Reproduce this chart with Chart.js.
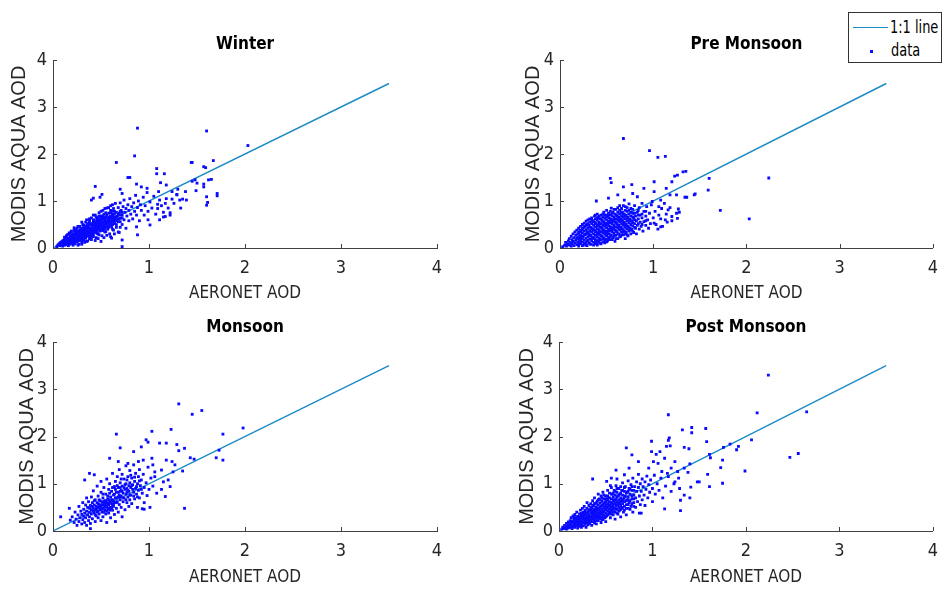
<!DOCTYPE html>
<html>
<head>
<meta charset="utf-8">
<script src="https://cdn.jsdelivr.net/npm/chart.js@4.4.0/dist/chart.umd.min.js"></script>
<style>
  body { margin: 0; background: #fff; width: 948px; height: 590px; overflow: hidden; position: relative; }
  .panel { position: absolute; }
  #legend { position: absolute; left: 848px; top: 12px; width: 94px; height: 51px; box-sizing: border-box;
    border: 1px solid #333; background: #fff; font-family: 'Liberation Sans Narrow', 'DejaVu Sans Condensed', 'Arial Narrow', sans-serif;
    font-size: 18px; color: #000; white-space: nowrap; }
  #legend .ln { position: absolute; left: 4px; top: 14px; width: 35px; border-top: 1.5px solid #1b8ac6; }
  #legend .dot { position: absolute; left: 21px; top: 37px; width: 3px; height: 3px; background: #0a0aff; }
  #legend span { position: absolute; transform: scaleX(0.8); transform-origin: 0 50%; line-height: 20px; }
  #legend .t1 { left: 41px; top: 4px; }
  #legend .t2 { left: 42px; top: 27px; }
</style>
</head>
<body>
<div class="panel" style="left:0;top:0"><canvas id="c0" width="474" height="310"></canvas></div>
<div class="panel" style="left:474px;top:0"><canvas id="c1" width="474" height="310"></canvas></div>
<div class="panel" style="left:0;top:295px"><canvas id="c2" width="474" height="295"></canvas></div>
<div class="panel" style="left:474px;top:295px"><canvas id="c3" width="474" height="295"></canvas></div>
<div id="legend"><div class="ln"></div><span class="t1">1:1 line</span><div class="dot"></div><span class="t2">data</span></div>
<script>
// values (AERONET AOD, MODIS AQUA AOD)
const titles = ["Winter", "Pre Monsoon", "Monsoon", "Post Monsoon"];
const ticks = [0, 1, 2, 3, 4];
const oneToOne = [[0, 0], [3.5, 3.5]];

const winterPoints = [
  [0.88,2.55],[1.60,2.49],[2.03,2.18],[0.85,1.96],[0.66,1.82],[1.45,1.82],[1.67,1.86],[1.59,1.71],[1.08,1.69],[1.08,1.58],
  [1.16,1.58],[0.80,1.50],[1.65,1.46],[1.45,1.42],[1.48,1.45],[0.44,1.31],[1.57,1.36],[1.71,1.16],[1.61,0.97],[1.49,1.22],
  [1.33,0.85],[1.15,0.76],[1.15,0.66],[1.22,0.75],[1.35,1.04],[1.29,1.14],[1.24,1.04],[1.09,0.93],[0.72,0.03],[0.72,0.17],
  [0.51,1.14],[0.42,1.06],[0.40,1.02],[0.49,1.08],[0.78,1.50],[0.70,1.25],[0.72,1.16],[0.87,1.36],[0.92,1.30],[0.98,1.27],
  [1.12,1.39],[1.18,1.34],[1.24,1.20],[1.29,1.13],[1.32,1.02],[1.38,1.20],[1.39,1.02],[1.11,1.02],[1.17,0.95],[1.09,0.84],
  [1.17,0.67],[1.22,0.70],[1.11,0.60],[1.01,0.49],[0.99,0.60],[0.87,0.45],[0.88,0.28],[0.61,0.21],[1.50,1.38],[1.57,1.30],
  [1.60,1.09],[1.62,1.45],[1.71,1.11],[1.60,0.91],[1.44,1.82],[1.57,1.73],
  [0.04,0.03],[0.06,0.08],[0.07,0.05],[0.08,0.12],[0.09,0.07],[0.10,0.15],[0.10,0.04],[0.11,0.10],[0.12,0.19],[0.12,0.06],
  [0.13,0.13],[0.14,0.23],[0.14,0.09],[0.15,0.17],[0.15,0.28],[0.16,0.05],[0.16,0.12],[0.17,0.21],[0.17,0.32],[0.18,0.08],
  [0.18,0.15],[0.19,0.25],[0.19,0.36],[0.20,0.11],[0.20,0.19],[0.21,0.29],[0.21,0.06],[0.22,0.14],[0.22,0.23],[0.22,0.38],
  [0.23,0.33],[0.23,0.09],[0.24,0.18],[0.24,0.27],[0.25,0.42],[0.25,0.13],[0.26,0.22],[0.26,0.31],[0.27,0.36],[0.27,0.08],
  [0.28,0.16],[0.28,0.26],[0.28,0.46],[0.29,0.20],[0.29,0.40],[0.30,0.12],[0.30,0.30],[0.30,0.35],[0.31,0.24],[0.31,0.50],
  [0.32,0.17],[0.32,0.33],[0.32,0.43],[0.33,0.28],[0.33,0.38],[0.34,0.21],[0.34,0.47],[0.34,0.55],[0.35,0.31],[0.35,0.14],
  [0.36,0.25],[0.36,0.40],[0.36,0.52],[0.37,0.35],[0.37,0.45],[0.38,0.19],[0.38,0.29],[0.38,0.58],[0.39,0.42],[0.39,0.50],
  [0.40,0.23],[0.40,0.34],[0.40,0.64],[0.41,0.46],[0.41,0.38],[0.42,0.55],[0.42,0.28],[0.43,0.42],[0.43,0.60],[0.44,0.33],
  [0.44,0.50],[0.44,0.70],[0.45,0.46],[0.45,0.22],[0.46,0.38],[0.46,0.57],[0.47,0.64],[0.47,0.30],[0.48,0.44],[0.48,0.52],
  [0.48,0.75],[0.49,0.36],[0.49,0.60],[0.50,0.48],[0.50,0.68],[0.51,0.26],[0.51,0.55],[0.52,0.41],[0.52,0.63],[0.52,0.80],
  [0.53,0.50],[0.53,0.72],[0.54,0.34],[0.54,0.58],[0.55,0.45],[0.55,0.66],[0.56,0.53],[0.56,0.85],[0.57,0.40],[0.57,0.62],
  [0.58,0.74],[0.58,0.50],[0.59,0.30],[0.59,0.58],[0.60,0.68],[0.60,0.90],[0.61,0.45],[0.61,0.78],[0.62,0.56],[0.62,0.64],
  [0.63,0.38],[0.63,0.84],[0.64,0.72],[0.64,0.52],[0.65,0.95],[0.65,0.62],[0.66,0.44],[0.66,0.76],[0.67,0.68],[0.68,0.56],
  [0.68,0.86],[0.69,0.33],[0.69,0.74],[0.70,0.63],[0.70,0.96],[0.71,0.80],[0.72,0.50],[0.72,0.70],[0.73,0.88],[0.74,0.60],
  [0.74,1.02],[0.75,0.76],[0.76,0.42],[0.76,0.84],[0.77,0.68],[0.78,0.92],[0.79,0.58],[0.79,0.80],[0.80,1.05],[0.81,0.72],
  [0.82,0.88],[0.83,0.62],[0.84,0.96],[0.85,0.78],[0.86,1.12],[0.87,0.70],[0.88,0.86],[0.89,1.00],[0.90,0.58],[0.91,0.92],
  [0.92,0.80],[0.94,1.08],[0.95,0.70],[0.96,0.90],[0.98,1.18],[0.99,0.78],[1.01,0.98],[1.03,0.85],[1.05,1.10],[1.07,0.72],
  [1.10,1.20],[1.13,0.90],[1.18,1.05],[1.20,0.85],[1.26,0.95],[1.30,1.25],
  [0.05,0.06],[0.07,0.10],[0.09,0.13],[0.11,0.16],[0.13,0.18],[0.13,0.07],[0.15,0.10],[0.16,0.20],[0.17,0.14],[0.18,0.26],
  [0.19,0.18],[0.20,0.27],[0.21,0.14],[0.21,0.21],[0.23,0.17],[0.23,0.25],[0.24,0.34],[0.25,0.20],[0.26,0.15],[0.26,0.27],
  [0.27,0.22],[0.27,0.30],[0.29,0.24],[0.29,0.33],[0.30,0.18],[0.31,0.28],[0.31,0.39],[0.33,0.22],[0.33,0.33],[0.35,0.27],
  [0.35,0.37],[0.35,0.44],[0.37,0.30],[0.37,0.40],[0.39,0.27],[0.39,0.36],[0.41,0.31],[0.41,0.52],[0.42,0.36],[0.43,0.49],
  [0.45,0.40],[0.45,0.54],[0.46,0.31],[0.47,0.47],[0.49,0.43],[0.49,0.54],[0.50,0.38],[0.51,0.61],[0.53,0.45],[0.54,0.65],
  [0.55,0.52],[0.57,0.56],[0.58,0.66],[0.60,0.50],[0.62,0.72],[0.64,0.60],
  [0.10,0.09],[0.12,0.14],[0.12,0.23],[0.14,0.16],[0.14,0.26],[0.16,0.08],[0.16,0.17],[0.16,0.29],[0.18,0.11],[0.18,0.19],
  [0.18,0.32],[0.20,0.14],[0.20,0.23],[0.20,0.34],[0.22,0.11],[0.22,0.18],[0.22,0.28],[0.24,0.14],[0.24,0.22],[0.24,0.30],
  [0.24,0.39],[0.26,0.18],[0.26,0.25],[0.26,0.35],[0.28,0.19],[0.28,0.30],[0.28,0.39],[0.30,0.22],[0.30,0.27],[0.30,0.42],
  [0.32,0.20],[0.32,0.26],[0.32,0.38],[0.32,0.48],[0.34,0.25],[0.34,0.33],[0.34,0.43],[0.36,0.29],[0.36,0.36],[0.36,0.47],
  [0.38,0.24],[0.38,0.33],[0.38,0.43],[0.38,0.53],[0.40,0.28],[0.40,0.40],[0.40,0.50],[0.42,0.32],[0.42,0.41],[0.42,0.59],
  [0.44,0.37],[0.44,0.45],[0.44,0.55],[0.46,0.34],[0.46,0.43],[0.46,0.52],[0.46,0.62],[0.48,0.40],[0.48,0.48],[0.48,0.58],
  [0.50,0.44],[0.50,0.52],[0.50,0.63],[0.52,0.37],[0.52,0.46],[0.52,0.56],[0.52,0.68],[0.54,0.41],[0.54,0.53],[0.54,0.62],
  [0.56,0.46],[0.56,0.57],[0.56,0.70],[0.58,0.44],[0.58,0.54],[0.58,0.62],[0.60,0.56],[0.60,0.64],[0.60,0.75],[0.62,0.50],
  [0.62,0.60],[0.62,0.68],[0.64,0.56],[0.64,0.66],[0.64,0.78],[0.66,0.58],[0.66,0.66],[0.68,0.62],[0.68,0.72],[0.70,0.56],
  [0.70,0.70],[0.70,0.78],[0.72,0.64],[0.72,0.76],
  [0.36,0.15],[0.40,0.18],[0.44,0.16],[0.47,0.20],[0.50,0.14],[0.53,0.22],[0.56,0.27],[0.60,0.24],[0.64,0.30],[0.68,0.34],
  [0.42,0.24],[0.48,0.28],[0.55,0.35],[0.62,0.40],[0.66,0.50],[0.70,0.44],[0.38,0.62],[0.42,0.70],[0.45,0.66],[0.50,0.78],
  [0.54,0.84],[0.58,0.86],[0.62,0.92],[0.55,0.75],[0.60,0.80],[0.48,0.68],[0.35,0.60],[0.30,0.55],[0.26,0.46],[0.22,0.43],
  [0.33,0.12],[0.30,0.08],[0.26,0.06]
];

const preMonsoonPoints = [
  [0.68,2.33],[0.96,2.07],[1.05,1.93],[1.13,1.95],[0.54,1.48],[0.55,1.39],[1.35,1.63],[1.26,1.55],[1.60,1.48],[1.59,1.23],
  [2.24,1.49],[1.72,0.80],[2.03,0.62],[1.45,1.15],[1.36,1.08],[1.01,1.41],[0.77,1.35],[0.68,1.30],[0.39,1.00],[1.27,0.83],
  [1.28,0.76],[1.10,0.46],[1.05,0.40],[1.15,0.55],[1.20,1.41],[1.23,1.53],[1.32,1.62],[1.44,1.13],[1.34,1.08],[1.25,1.13],
  [1.18,1.13],[1.14,1.27],[0.52,1.06],[0.62,1.13],[0.69,1.02],[0.78,1.16],[0.83,1.09],[0.90,1.27],[1.01,1.20],[0.99,0.99],
  [1.08,1.02],[1.09,0.84],[1.16,0.81],[1.20,0.67],[1.25,0.74],[1.26,0.63],[1.13,0.60],[1.08,0.45],[1.01,0.53],[1.06,0.70],
  [0.03,0.03],[0.05,0.06],[0.06,0.12],[0.07,0.04],[0.08,0.09],[0.09,0.15],[0.10,0.06],[0.10,0.20],
  [0.11,0.12],[0.12,0.04],[0.12,0.25],[0.13,0.09],[0.13,0.18],[0.14,0.30],[0.14,0.14],[0.15,0.05],[0.15,0.22],[0.16,0.11],
  [0.16,0.34],[0.17,0.17],[0.17,0.27],[0.18,0.07],[0.18,0.21],[0.18,0.38],
  [0.19,0.13],[0.19,0.30],[0.20,0.04],[0.20,0.24],[0.20,0.42],[0.21,0.17],[0.21,0.35],[0.22,0.09],[0.22,0.28],[0.22,0.46],
  [0.23,0.20],[0.23,0.38],[0.24,0.13],[0.24,0.32],[0.24,0.50],[0.25,0.06],[0.25,0.25],[0.25,0.43],[0.26,0.17],[0.26,0.36],
  [0.26,0.53],
  [0.27,0.10],[0.27,0.29],[0.27,0.46],[0.28,0.21],[0.28,0.39],[0.28,0.57],[0.29,0.05],[0.29,0.15],[0.29,0.33],[0.29,0.50],
  [0.30,0.24],[0.30,0.42],[0.30,0.60],[0.31,0.11],[0.31,0.30],[0.31,0.48],[0.32,0.19],[0.32,0.37],[0.32,0.55],[0.33,0.08],
  [0.33,0.27],[0.33,0.44],[0.34,0.16],[0.34,0.34],[0.34,0.52],[0.34,0.64],[0.35,0.23],[0.35,0.41],[0.35,0.58],[0.36,0.12],
  [0.36,0.30],[0.36,0.48],
  [0.37,0.20],[0.37,0.38],[0.37,0.55],[0.37,0.68],[0.38,0.09],[0.38,0.27],[0.38,0.45],[0.38,0.62],[0.39,0.17],[0.39,0.34],
  [0.39,0.52],[0.40,0.06],[0.40,0.24],[0.40,0.41],[0.40,0.59],[0.40,0.72],[0.41,0.14],[0.41,0.31],[0.41,0.48],[0.41,0.65],
  [0.42,0.21],[0.42,0.38],[0.42,0.55],[0.43,0.10],[0.43,0.28],[0.43,0.45],[0.43,0.62],[0.44,0.18],[0.44,0.35],[0.44,0.52],
  [0.44,0.70],[0.45,0.25],[0.45,0.42],[0.45,0.59],[0.46,0.13],[0.46,0.32],[0.46,0.49],[0.46,0.66],
  [0.47,0.22],[0.47,0.39],[0.47,0.56],[0.47,0.76],[0.48,0.11],[0.48,0.29],[0.48,0.46],[0.48,0.63],[0.49,0.19],[0.49,0.36],
  [0.49,0.53],[0.49,0.70],[0.50,0.26],[0.50,0.43],[0.50,0.60],[0.50,0.80],[0.51,0.15],[0.51,0.33],[0.51,0.50],[0.51,0.67],
  [0.52,0.23],[0.52,0.40],[0.52,0.57],[0.52,0.74],[0.53,0.30],[0.53,0.47],[0.53,0.64],[0.54,0.18],[0.54,0.37],[0.54,0.54],
  [0.54,0.71],[0.55,0.27],[0.55,0.44],[0.55,0.61],[0.55,0.85],[0.56,0.34],[0.56,0.51],[0.56,0.68],
  [0.57,0.22],[0.57,0.41],[0.57,0.58],[0.57,0.76],[0.58,0.31],[0.58,0.48],[0.58,0.65],[0.59,0.14],[0.59,0.38],[0.59,0.55],
  [0.59,0.72],[0.60,0.27],[0.60,0.45],[0.60,0.62],[0.60,0.82],[0.61,0.35],[0.61,0.52],[0.61,0.69],[0.62,0.20],[0.62,0.42],
  [0.62,0.59],[0.62,0.76],[0.63,0.30],[0.63,0.49],[0.63,0.66],[0.64,0.38],[0.64,0.56],[0.64,0.73],[0.64,0.90],[0.65,0.25],
  [0.65,0.45],[0.65,0.62],[0.66,0.34],[0.66,0.52],[0.66,0.69],[0.66,0.84],
  [0.67,0.41],[0.67,0.59],[0.67,0.76],[0.68,0.28],[0.68,0.48],[0.68,0.65],[0.69,0.37],[0.69,0.55],[0.69,0.72],[0.70,0.20],
  [0.70,0.44],[0.70,0.62],[0.70,0.88],[0.71,0.33],[0.71,0.51],[0.71,0.69],[0.72,0.40],[0.72,0.58],[0.72,0.78],[0.73,0.26],
  [0.73,0.47],[0.73,0.65],[0.74,0.36],[0.74,0.54],[0.74,0.72],[0.74,0.94],[0.75,0.43],[0.75,0.61],[0.76,0.30],[0.76,0.50],
  [0.76,0.68],[0.76,0.84],
  [0.77,0.40],[0.77,0.57],[0.78,0.47],[0.78,0.74],[0.79,0.33],[0.79,0.63],[0.80,0.52],[0.80,0.90],[0.81,0.42],[0.81,0.68],
  [0.82,0.58],[0.82,0.30],[0.83,0.76],[0.83,0.48],[0.84,0.62],[0.85,0.40],[0.85,0.86],[0.86,0.55],[0.86,0.70],[0.87,0.46],
  [0.88,0.64],[0.88,0.95],[0.89,0.36],[0.90,0.56],[0.90,0.78],[0.92,0.48],[0.92,0.68],[0.93,0.88],[0.94,0.60],[0.95,0.42],
  [0.96,0.74],[0.97,0.52],[0.98,0.92],[1.00,0.64],[1.02,0.78],[1.03,0.50],[1.06,0.88],[1.08,0.62],[1.12,0.95],[1.14,0.72],
  [1.18,0.86],[1.20,0.58],
  [0.20,0.08],[0.20,0.20],[0.20,0.33],[0.22,0.14],[0.22,0.37],[0.22,0.24],[0.24,0.05],[0.24,0.22],[0.24,0.41],[0.26,0.10],
  [0.26,0.28],[0.26,0.45],[0.28,0.06],[0.28,0.30],[0.28,0.48],[0.28,0.12],[0.30,0.16],[0.30,0.34],[0.30,0.52],[0.32,0.09],
  [0.32,0.26],[0.32,0.45],[0.32,0.62],[0.34,0.20],[0.34,0.40],[0.34,0.58],[0.36,0.06],[0.36,0.22],[0.36,0.39],[0.36,0.56],
  [0.38,0.14],[0.38,0.35],[0.38,0.52],[0.38,0.70],[0.40,0.11],[0.40,0.29],[0.40,0.47],[0.40,0.64],[0.42,0.16],[0.42,0.33],
  [0.42,0.50],[0.42,0.68],[0.44,0.09],[0.44,0.26],[0.44,0.44],[0.44,0.62],[0.46,0.20],[0.46,0.37],[0.46,0.55],[0.46,0.72],
  [0.48,0.16],[0.48,0.33],[0.48,0.51],[0.48,0.70],[0.50,0.13],[0.50,0.30],[0.50,0.48],[0.50,0.66],[0.52,0.19],[0.52,0.36],
  [0.52,0.53],[0.52,0.70],[0.54,0.24],[0.54,0.42],[0.54,0.59],[0.54,0.78],[0.56,0.18],[0.56,0.39],[0.56,0.56],[0.56,0.74],
  [0.58,0.26],[0.58,0.44],[0.58,0.61],[0.58,0.82],[0.60,0.20],[0.60,0.36],[0.60,0.54],[0.60,0.70],[0.62,0.30],[0.62,0.48],
  [0.62,0.66],[0.62,0.86],[0.64,0.24],[0.64,0.44],[0.64,0.61],[0.64,0.80],[0.66,0.28],[0.66,0.40],[0.66,0.58],[0.66,0.76],
  [0.68,0.34],[0.68,0.54],[0.68,0.72],[0.68,0.90],[0.70,0.30],[0.70,0.50],[0.70,0.68],[0.70,0.80],[0.72,0.28],[0.72,0.46],
  [0.72,0.64],[0.72,0.86],[0.74,0.42],[0.74,0.60],[0.74,0.80],[0.76,0.38],[0.76,0.58],[0.76,0.76],[0.78,0.36],[0.78,0.54],
  [0.78,0.66],[0.78,0.82],[0.80,0.44],[0.80,0.60],[0.80,0.74],[0.84,0.52],[0.84,0.70],[0.84,0.80],[0.88,0.50],[0.88,0.72],
  [0.92,0.58],[0.92,0.78]
];

const monsoonPoints = [
  [1.31,2.69],[1.45,2.47],[1.55,2.55],[0.66,2.05],[1.03,2.11],[1.23,2.15],[1.77,2.05],[1.98,2.18],[0.70,1.76],[0.97,1.93],
  [0.99,1.88],[1.11,1.86],[1.18,1.86],[1.29,1.83],[1.31,1.70],[1.37,1.75],[1.73,1.71],[1.70,1.55],[1.77,1.50],[1.43,1.55],
  [1.47,1.52],[1.35,1.27],[1.37,0.48],[1.17,0.73],[1.22,0.94],[1.13,0.88],[0.93,0.47],[0.95,0.46],[0.08,0.30],[0.17,0.48],
  [0.18,0.23],[0.39,0.05],[0.33,1.08],[0.38,1.22],[0.43,1.19],
  [0.59,1.54],[0.68,1.47],[0.78,1.43],[0.89,1.47],[0.94,1.50],[0.84,1.68],[0.92,1.78],[1.03,1.54],[1.04,1.40],[1.13,1.29],
  [1.18,1.50],[1.24,1.47],[1.27,1.40],[1.25,1.25],[1.20,1.08],[1.15,1.04],[1.06,1.15],
  [0.20,0.30],[0.22,0.18],[0.23,0.40],[0.24,0.25],[0.25,0.12],[0.26,0.34],[0.27,0.52],[0.27,0.20],[0.28,0.28],[0.29,0.42],
  [0.30,0.15],[0.30,0.35],[0.31,0.60],[0.31,0.24],[0.32,0.46],[0.32,0.31],[0.33,0.18],[0.33,0.38],[0.34,0.55],[0.34,0.28],
  [0.35,0.42],[0.35,0.70],[0.35,0.12],
  [0.36,0.34],[0.36,0.50],[0.37,0.22],[0.37,0.62],[0.38,0.40],[0.38,0.30],[0.39,0.54],[0.39,0.16],[0.40,0.45],[0.40,0.72],
  [0.40,0.36],[0.41,0.26],[0.41,0.60],[0.42,0.48],[0.42,0.85],[0.43,0.38],[0.43,0.55],[0.44,0.20],[0.44,0.66],[0.44,0.44],
  [0.45,0.32],[0.45,0.52],[0.46,0.60],[0.46,0.95],[0.46,0.40],[0.47,0.28],[0.47,0.74],[0.48,0.50],[0.48,0.56],[0.48,0.36],
  [0.49,0.64],[0.49,0.45],[0.50,0.22],[0.50,0.82],[0.50,0.54],[0.50,1.05],
  [0.51,0.40],[0.51,0.62],[0.52,0.48],[0.52,0.70],[0.52,0.30],[0.53,0.56],[0.53,0.92],[0.54,0.44],[0.54,0.64],[0.55,0.36],
  [0.55,0.52],[0.55,0.78],[0.56,0.60],[0.56,1.10],[0.56,0.18],[0.57,0.47],[0.57,0.68],[0.58,0.55],[0.58,0.88],[0.58,0.38],
  [0.59,0.62],[0.59,1.00],[0.60,0.50],[0.60,0.72],[0.60,0.28],[0.61,0.58],[0.61,0.84],[0.62,0.44],[0.62,0.66],[0.62,1.22],
  [0.63,0.76],[0.63,0.52],[0.64,0.35],[0.64,0.94],[0.64,0.60],[0.65,0.70],[0.65,1.05],[0.65,0.20],
  [0.66,0.48],[0.66,0.82],[0.67,0.62],[0.67,1.15],[0.68,0.72],[0.68,0.40],[0.68,0.92],[0.69,0.56],[0.69,1.30],[0.70,0.66],
  [0.70,0.84],[0.70,1.02],[0.71,0.50],[0.71,0.74],[0.72,0.95],[0.72,0.30],[0.72,1.20],[0.73,0.62],[0.73,0.80],[0.74,0.70],
  [0.74,1.10],[0.75,0.88],[0.75,0.45],[0.76,0.78],[0.76,1.00],[0.76,1.38],[0.77,0.60],[0.77,0.90],[0.78,1.15],[0.78,0.72],
  [0.79,0.84],[0.79,0.52],[0.80,1.02],[0.80,0.66],[0.80,1.28],
  [0.81,0.92],[0.81,0.76],[0.82,1.12],[0.82,0.58],[0.83,0.98],[0.84,0.82],[0.84,1.40],[0.85,1.05],[0.85,0.68],[0.86,0.90],
  [0.86,1.22],[0.87,0.78],[0.88,1.00],[0.88,0.50],[0.89,1.15],[0.89,0.86],[0.90,0.70],[0.90,1.30],[0.91,0.96],[0.92,1.08],
  [0.93,0.80],[0.94,1.20],[0.95,0.60],[0.95,0.92],[0.97,1.02],[0.98,0.75],[0.99,1.35],[1.00,0.88],[1.01,0.50],[1.02,1.12],
  [1.04,0.95],[1.06,1.25],[1.08,0.80],
  [0.42,0.42],[0.45,0.46],[0.47,0.58],[0.49,0.52],[0.51,0.46],[0.53,0.62],[0.54,0.50],[0.56,0.42],[0.57,0.58],[0.58,0.66],
  [0.60,0.60],[0.61,0.48],[0.63,0.64],[0.66,0.70],[0.69,0.76],[0.71,0.86],[0.74,0.92],[0.77,0.82],[0.79,0.96],[0.83,0.88],
  [0.38,0.48],[0.41,0.52],[0.43,0.64],[0.44,0.34],[0.47,0.42],[0.48,0.66],[0.50,0.46],[0.51,0.56],[0.52,0.78],[0.53,0.40],
  [0.55,0.64],[0.56,0.52],[0.57,0.74],[0.59,0.44],[0.59,0.80],[0.61,0.66],[0.62,0.92],[0.63,0.56],[0.64,0.78],[0.66,0.60],
  [0.67,0.96],[0.68,0.82],[0.70,0.72],[0.71,1.10],[0.72,0.84],[0.73,0.70],[0.75,0.98],[0.76,0.66],[0.77,1.08],[0.78,0.86],
  [0.80,0.76],[0.81,1.18],[0.82,0.96],[0.84,0.74],[0.85,1.14],[0.87,0.94],[0.88,0.72],[0.90,1.06],[0.92,0.88],[0.46,0.50],
  [0.54,0.58],[0.58,0.48],[0.62,0.54],[0.65,0.88],[0.70,0.92]
];

const postMonsoonPoints = [
  [2.24,3.30],[2.12,2.50],[2.65,2.52],[1.17,2.46],[1.32,2.14],[1.42,2.19],[1.42,2.08],[1.57,2.17],[1.58,1.89],[1.18,1.97],
  [1.17,1.92],[0.99,1.90],[0.72,1.76],[1.39,1.74],[1.34,1.77],[1.15,1.79],[1.19,1.80],[1.83,1.84],[1.76,1.77],[2.06,1.93],
  [1.92,1.79],[1.90,1.72],[2.47,1.56],[2.56,1.64],[1.99,1.27],[1.75,1.50],[1.73,1.34],[1.61,1.62],[1.62,1.55],[1.75,1.01],
  [1.61,0.94],[1.48,1.04],[1.50,1.04],[1.40,1.42],[1.38,1.24],[1.59,1.20],[1.41,0.93],[1.40,0.70],[1.30,0.65],[1.30,0.43],
  [1.13,0.47],[0.36,1.10],[0.51,1.05],[0.55,0.96],[0.62,1.10],[0.88,0.38],[0.86,0.38],
  [0.99,1.68],[1.04,1.62],[1.08,1.68],[1.01,1.47],[1.06,1.43],[1.13,1.54],[1.20,1.33],[1.24,1.47],[1.17,1.15],[1.24,1.04],
  [1.29,0.90],[1.34,0.76],[1.27,1.26],[1.34,1.33],[1.10,1.26],[0.96,1.33],[0.85,1.47],[0.78,1.61],[0.75,1.33],[0.70,1.19],
  [0.61,1.29],[0.56,1.12],
  [0.03,0.04],[0.04,0.08],[0.05,0.05],[0.06,0.12],[0.07,0.07],[0.08,0.16],[0.08,0.04],[0.09,0.10],[0.10,0.19],[0.10,0.06],
  [0.11,0.14],[0.12,0.22],[0.12,0.08],
  [0.13,0.17],[0.13,0.28],[0.14,0.11],[0.14,0.05],[0.15,0.21],[0.15,0.32],[0.16,0.14],[0.16,0.25],[0.17,0.08],[0.17,0.19],
  [0.17,0.35],[0.18,0.28],[0.18,0.12],[0.19,0.22],[0.19,0.40],[0.20,0.06],[0.20,0.16],[0.20,0.31],[0.21,0.25],[0.21,0.10],
  [0.22,0.19],[0.22,0.36],
  [0.23,0.29],[0.23,0.13],[0.23,0.44],[0.24,0.22],[0.24,0.08],[0.24,0.37],[0.25,0.17],[0.25,0.31],[0.25,0.48],[0.26,0.25],
  [0.26,0.11],[0.26,0.40],[0.27,0.20],[0.27,0.34],[0.27,0.52],[0.28,0.14],[0.28,0.28],[0.28,0.44],[0.29,0.23],[0.29,0.37],
  [0.29,0.08],[0.30,0.18],[0.30,0.31],[0.30,0.48],[0.30,0.60],[0.31,0.26],[0.31,0.41],[0.31,0.13],[0.32,0.21],[0.32,0.35],
  [0.32,0.54],
  [0.33,0.29],[0.33,0.45],[0.33,0.16],[0.34,0.24],[0.34,0.39],[0.34,0.58],[0.35,0.32],[0.35,0.49],[0.35,0.12],[0.36,0.20],
  [0.36,0.43],[0.36,0.64],[0.37,0.27],[0.37,0.36],[0.37,0.53],[0.38,0.17],[0.38,0.31],[0.38,0.47],[0.38,0.70],[0.39,0.24],
  [0.39,0.40],[0.39,0.58],[0.40,0.34],[0.40,0.51],[0.40,0.15],[0.41,0.28],[0.41,0.44],[0.41,0.63],[0.42,0.22],[0.42,0.38],
  [0.42,0.55],[0.42,0.78],
  [0.43,0.32],[0.43,0.48],[0.43,0.68],[0.44,0.26],[0.44,0.42],[0.44,0.59],[0.45,0.18],[0.45,0.36],[0.45,0.52],[0.45,0.74],
  [0.46,0.30],[0.46,0.46],[0.46,0.63],[0.47,0.40],[0.47,0.56],[0.47,0.24],[0.47,0.82],[0.48,0.34],[0.48,0.50],[0.48,0.68],
  [0.49,0.44],[0.49,0.60],[0.49,0.28],[0.50,0.38],[0.50,0.54],[0.50,0.74],[0.50,0.20],[0.51,0.48],[0.51,0.65],[0.51,0.32],
  [0.52,0.42],[0.52,0.58],[0.52,0.86],
  [0.53,0.52],[0.53,0.70],[0.53,0.36],[0.54,0.46],[0.54,0.62],[0.54,0.80],[0.55,0.28],[0.55,0.56],[0.55,0.40],[0.56,0.50],
  [0.56,0.68],[0.56,0.92],[0.57,0.44],[0.57,0.60],[0.57,0.78],[0.58,0.34],[0.58,0.54],[0.58,0.72],[0.59,0.48],[0.59,0.64],
  [0.59,0.86],[0.60,0.40],[0.60,0.58],[0.60,0.76],[0.60,0.25],[0.61,0.52],[0.61,0.68],[0.61,0.96],[0.62,0.46],[0.62,0.62],
  [0.62,0.82],
  [0.63,0.36],[0.63,0.56],[0.63,0.74],[0.64,0.50],[0.64,0.66],[0.64,0.90],[0.65,0.44],[0.65,0.60],[0.65,0.78],[0.66,0.30],
  [0.66,0.54],[0.66,0.70],[0.67,0.64],[0.67,0.86],[0.67,0.48],[0.68,0.58],[0.68,0.76],[0.68,1.02],[0.69,0.40],[0.69,0.68],
  [0.70,0.52],[0.70,0.84],[0.70,0.62],[0.71,0.74],[0.71,0.94],[0.72,0.56],[0.72,0.34],[0.73,0.66],[0.73,0.82],[0.74,0.48],
  [0.74,0.72],[0.74,1.06],[0.75,0.60],[0.75,0.90],
  [0.76,0.78],[0.77,0.52],[0.77,0.98],[0.78,0.68],[0.78,0.86],[0.79,0.40],[0.79,1.12],[0.80,0.60],[0.80,0.76],[0.81,0.94],
  [0.82,0.70],[0.82,0.50],[0.83,0.84],[0.83,1.04],[0.84,0.62],[0.85,0.92],[0.85,1.20],[0.86,0.74],[0.87,0.56],[0.87,1.00],
  [0.88,0.84],[0.89,0.66],[0.89,1.10],[0.90,0.94],[0.91,0.76],[0.92,1.04],[0.92,0.54],[0.93,0.88],[0.94,1.16],[0.95,0.70],
  [0.96,0.98],[0.97,0.82],[0.98,1.08],[1.00,0.90],[1.00,0.62],[1.02,1.18],[1.03,0.78],[1.05,1.00],[1.07,0.86],[1.09,1.12],
  [1.11,0.70],[1.14,0.95],[1.16,1.22],[1.20,0.84],[1.23,1.00],[1.28,1.12],
  [0.10,0.12],[0.12,0.15],[0.14,0.08],[0.14,0.20],[0.16,0.10],[0.16,0.19],[0.16,0.30],[0.18,0.16],[0.18,0.24],[0.20,0.12],
  [0.20,0.22],[0.20,0.27],[0.22,0.14],[0.22,0.24],[0.22,0.30],[0.24,0.12],[0.24,0.18],[0.24,0.27],[0.24,0.32],[0.26,0.18],
  [0.26,0.30],[0.26,0.36],[0.28,0.19],[0.28,0.24],[0.28,0.34],[0.28,0.40],[0.30,0.23],[0.30,0.27],[0.30,0.38],[0.32,0.17],
  [0.32,0.27],[0.32,0.31],[0.32,0.44],[0.34,0.20],[0.34,0.30],[0.34,0.44],[0.34,0.50],[0.36,0.26],[0.36,0.33],[0.36,0.38],
  [0.36,0.54],[0.38,0.22],[0.38,0.36],[0.38,0.42],[0.38,0.58],[0.40,0.22],[0.40,0.30],[0.40,0.40],[0.40,0.46],[0.40,0.60],
  [0.42,0.28],[0.42,0.34],[0.42,0.46],[0.42,0.66],[0.44,0.30],[0.44,0.38],[0.44,0.50],[0.44,0.66],[0.46,0.24],[0.46,0.36],
  [0.46,0.40],[0.46,0.54],[0.46,0.70],[0.48,0.28],[0.48,0.42],[0.48,0.58],[0.48,0.76],[0.50,0.30],[0.50,0.46],[0.50,0.62],
  [0.50,0.68],[0.52,0.34],[0.52,0.50],[0.52,0.66],[0.52,0.74],[0.54,0.38],[0.54,0.54],[0.54,0.70],[0.56,0.36],[0.56,0.44],
  [0.56,0.60],[0.56,0.78],[0.58,0.40],[0.58,0.48],[0.58,0.66],[0.58,0.80],[0.60,0.46],[0.60,0.66],[0.60,0.84],[0.62,0.38],
  [0.62,0.56],[0.62,0.72],[0.62,0.90],[0.64,0.42],[0.64,0.58],[0.64,0.76],[0.66,0.46],[0.66,0.62],[0.66,0.80],[0.66,0.94],
  [0.68,0.50],[0.68,0.66],[0.68,0.86],[0.70,0.44],[0.70,0.72],[0.70,0.92],[0.72,0.48],[0.72,0.64],[0.72,0.80],[0.74,0.56],
  [0.74,0.66],[0.74,0.84],[0.76,0.46],[0.76,0.64],[0.76,0.88],[0.78,0.58],[0.78,0.74],[0.78,0.94],[0.80,0.52],[0.80,0.68],
  [0.80,0.86]
];

const pointSets = [winterPoints, preMonsoonPoints, monsoonPoints, postMonsoonPoints];

const narrow = "'Liberation Sans Narrow', 'DejaVu Sans Condensed', 'Arial Narrow', sans-serif";
const lineColor = "#1b8ac6";
const dotColor = "#0a0aff";
const axisColor = "#404040";

// small inward tick marks, matlab style
const innerTicks = {
  id: "innerTicks",
  afterDraw(chart) {
    const { ctx, chartArea, scales } = chart;
    ctx.save();
    ctx.strokeStyle = axisColor;
    ctx.lineWidth = 1;
    scales.x.ticks.forEach((t, i) => {
      const px = Math.round(scales.x.getPixelForTick(i)) + 0.5;
      ctx.beginPath();
      ctx.moveTo(px, chartArea.bottom);
      ctx.lineTo(px, chartArea.bottom - 4);
      ctx.stroke();
    });
    scales.y.ticks.forEach((t, i) => {
      const py = Math.round(scales.y.getPixelForTick(i)) + 0.5;
      ctx.beginPath();
      ctx.moveTo(chartArea.left, py);
      ctx.lineTo(chartArea.left + 4, py);
      ctx.stroke();
    });
    ctx.restore();
  }
};

// layout per panel: y-axis width, right padding, title paddings, x-axis height, axis title paddings
const layouts = [
  { yW: 53, padR: 37, tTop: 34, tBot: 5.6, xH: 62, yTitlePad: 7, xTitlePad: 6 },
  { yW: 86, padR: 6, tTop: 34, tBot: 5.6, xH: 62, yTitlePad: 47, xTitlePad: 6 },
  { yW: 53, padR: 37, tTop: 22, tBot: 4.6, xH: 59, yTitlePad: 15, xTitlePad: 2 },
  { yW: 85, padR: 6, tTop: 22, tBot: 4.6, xH: 59, yTitlePad: 41, xTitlePad: 2 }
];

function makeChart(i) {
  const L = layouts[i];
  new Chart(document.getElementById("c" + i), {
    type: "scatter",
    data: {
      datasets: [
        {
          type: "line",
          label: "1:1 line",
          data: oneToOne.map(p => ({ x: p[0], y: p[1] })),
          borderColor: lineColor,
          borderWidth: 1.4,
          pointRadius: 0,
          fill: false,
          order: 2
        },
        {
          label: "data",
          data: pointSets[i].map(p => ({ x: p[0], y: p[1] })),
          backgroundColor: dotColor,
          borderWidth: 0,
          pointStyle: "rect",
          pointRadius: 2,
          order: 1
        }
      ]
    },
    options: {
      responsive: false,
      animation: false,
      layout: { padding: { left: 0, right: L.padR, top: 0, bottom: 0 } },
      plugins: {
        legend: { display: false },
        tooltip: { enabled: false },
        title: {
          display: true,
          text: titles[i],
          fullSize: false,
          color: "#000",
          font: { family: narrow, size: 17, weight: "bold" },
          padding: { top: L.tTop, bottom: L.tBot }
        }
      },
      scales: {
        x: {
          type: "linear",
          min: 0, max: 4,
          afterFit: s => { s.height = L.xH; },
          afterBuildTicks: s => { s.ticks = ticks.map(v => ({ value: v })); },
          grid: { display: false, drawTicks: false },
          border: { display: true, color: axisColor, width: 1 },
          ticks: { color: "#262626", padding: 10, font: { family: narrow, size: 18 } },
          title: {
            display: true, text: "AERONET AOD", color: "#262626",
            font: { family: narrow, size: 17 }, padding: { top: 0, bottom: L.xTitlePad }
          }
        },
        y: {
          type: "linear",
          min: 0, max: 4,
          afterFit: s => { s.width = L.yW; },
          afterBuildTicks: s => { s.ticks = ticks.map(v => ({ value: v })); },
          grid: { display: false, drawTicks: false },
          border: { display: true, color: axisColor, width: 1 },
          ticks: { color: "#262626", padding: 6, font: { family: narrow, size: 18 } },
          title: {
            display: true, text: "MODIS AQUA AOD", color: "#262626",
            font: { family: "'Liberation Sans', Arial, sans-serif", size: 20 },
            padding: { top: L.yTitlePad, bottom: 0 }
          }
        }
      }
    },
    plugins: [innerTicks]
  });
}

[0, 1, 2, 3].forEach(makeChart);
</script>
</body>
</html>
